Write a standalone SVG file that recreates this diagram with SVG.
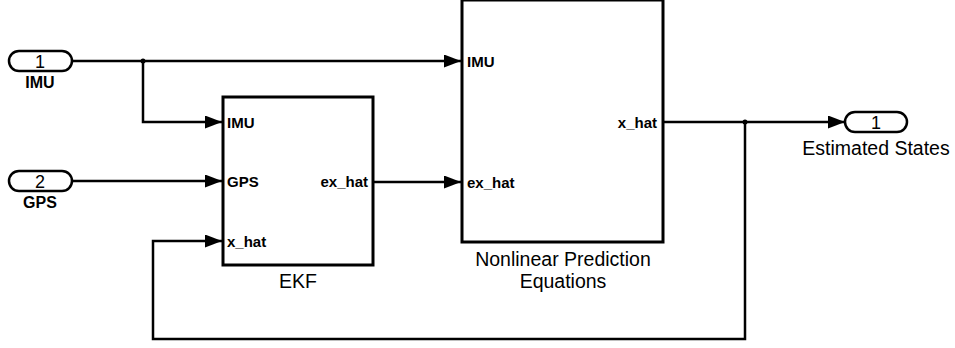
<svg xmlns="http://www.w3.org/2000/svg" width="955" height="348" viewBox="0 0 955 348">
<style>
.blk{fill:#fff;stroke:#000;stroke-width:3}
.port{fill:#fff;stroke:#000;stroke-width:2.5}
.ln{fill:none;stroke:#000;stroke-width:2.5}
.pl{font-family:"Liberation Sans",Arial,sans-serif;font-size:15px;font-weight:bold;fill:#000}
.nm{font-family:"Liberation Sans",Arial,sans-serif;font-size:19.5px;fill:#000}
.in{font-family:"Liberation Sans",Arial,sans-serif;font-size:16px;font-weight:bold;fill:#000}
.num{font-family:"Liberation Sans",Arial,sans-serif;font-size:18px;fill:#000}
</style>
<defs>
<marker id="ah" markerWidth="17" markerHeight="13" refX="17" refY="6.5" orient="auto" markerUnits="userSpaceOnUse">
<path d="M0,0 L17,6.5 L0,13 Z" fill="#000"/>
</marker>
</defs>
<g id="connectors">
<path class="ln" d="M72,61 H461" marker-end="url(#ah)"/>
<path class="ln" d="M143,61 V122 H222" marker-end="url(#ah)"/>
<path class="ln" d="M72,181 H222" marker-end="url(#ah)"/>
<path class="ln" d="M374,182 H461" marker-end="url(#ah)"/>
<path class="ln" d="M664,122 H845" marker-end="url(#ah)"/>
<path class="ln" d="M745,122 V339 H153 V241 H222" marker-end="url(#ah)"/>
<circle cx="143" cy="61" r="2.5" fill="#000"/>
<circle cx="745" cy="122" r="2.5" fill="#000"/>
</g>
<g id="in1">
<rect class="port" x="9" y="51" width="63" height="20" rx="10"/>
<text class="num" x="40" y="68" text-anchor="middle">1</text>
<text class="in" x="40" y="88" text-anchor="middle">IMU</text>
</g>
<g id="in2">
<rect class="port" x="9" y="171" width="63" height="20" rx="10"/>
<text class="num" x="40" y="188" text-anchor="middle">2</text>
<text class="in" x="40" y="208" text-anchor="middle">GPS</text>
</g>
<g id="ekf">
<rect class="blk" x="223" y="97" width="150" height="168"/>
<text class="pl" x="227" y="128">IMU</text>
<text class="pl" x="227" y="187">GPS</text>
<text class="pl" x="227" y="247">x_hat</text>
<text class="pl" x="368" y="187" text-anchor="end">ex_hat</text>
<text class="nm" x="298" y="288" text-anchor="middle">EKF</text>
</g>
<g id="nlpe">
<rect class="blk" x="462" y="0" width="201" height="242"/>
<text class="pl" x="467" y="67">IMU</text>
<text class="pl" x="467" y="188">ex_hat</text>
<text class="pl" x="657" y="128" text-anchor="end">x_hat</text>
<text class="nm" x="563" y="266" text-anchor="middle">Nonlinear Prediction</text>
<text class="nm" x="563" y="288" text-anchor="middle">Equations</text>
</g>
<g id="out1">
<rect class="port" x="845" y="112" width="62" height="20" rx="10"/>
<text class="num" x="876" y="129" text-anchor="middle">1</text>
<text class="nm" x="876" y="155" text-anchor="middle">Estimated States</text>
</g>
</svg>
